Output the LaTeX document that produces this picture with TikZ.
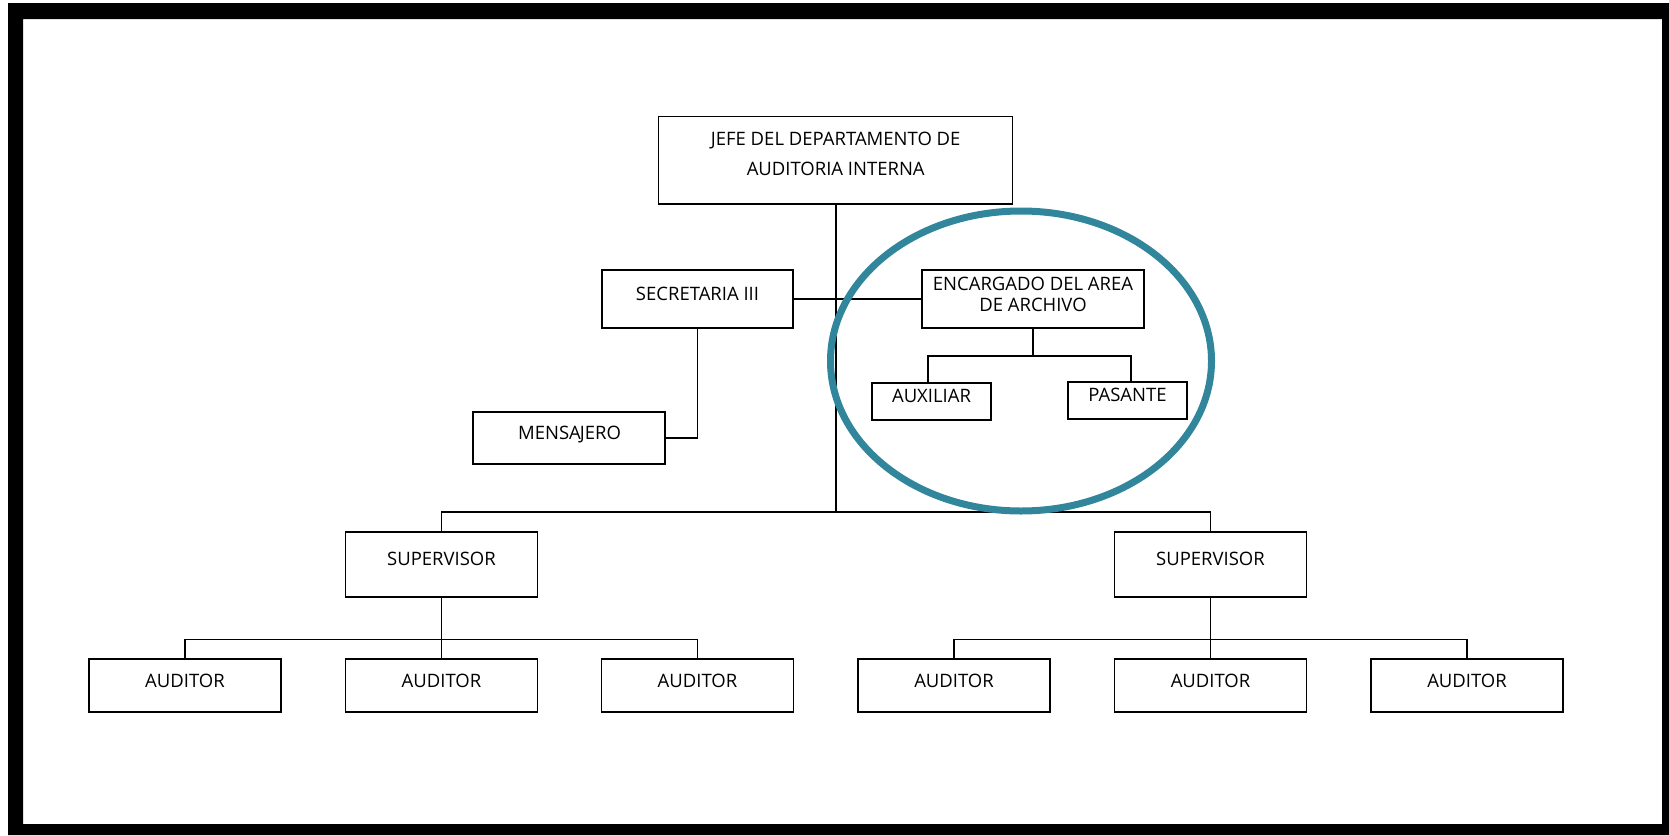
\documentclass[tikz,border=0pt]{standalone}
\usepackage{fontspec}
\setmainfont{Open Sans}
\definecolor{ringc}{RGB}{49,134,155}
\begin{document}
\begin{tikzpicture}[x=1pt,y=-1pt,
  box/.style={draw=black, line width=1.5pt, inner sep=0pt, fill=white},
  lbl/.style={inner sep=0pt, anchor=north, align=center, font=\fontsize{18.5}{29.3}\selectfont},
  conn/.style={line width=1.3pt, draw=black},
  trunk/.style={line width=1.7pt, draw=black}]
\useasboundingbox (0,0) rectangle (1669,835);
% frame
\fill[black, even odd rule] (8,3) rectangle (1669,835) (23,19) rectangle (1662,824);

% boxes
\node[box, minimum width=354pt, minimum height=87.3pt] (jefe) at (835.7,160.35) {};
\node[box, minimum width=191pt, minimum height=58pt] (sec) at (697.5,299) {};
\node[box, minimum width=192pt, minimum height=52pt] (men) at (569,438) {};
\node[box, minimum width=222pt, minimum height=58pt] (enc) at (1033,299) {};
\node[box, minimum width=119pt, minimum height=37pt] (aux) at (931.5,401.5) {};
\node[box, minimum width=119pt, minimum height=37pt] (pas) at (1127.5,400.5) {};
\node[box, minimum width=192pt, minimum height=65pt] (sup1) at (441.5,564.5) {};
\node[box, minimum width=192pt, minimum height=65pt] (sup2) at (1210.5,564.5) {};
\node[box, minimum width=192pt, minimum height=53pt] (aud1) at (185,685.5) {};
\node[box, minimum width=192pt, minimum height=53pt] (aud2) at (441.5,685.5) {};
\node[box, minimum width=192pt, minimum height=53pt] (aud3) at (697.5,685.5) {};
\node[box, minimum width=192pt, minimum height=53pt] (aud4) at (954,685.5) {};
\node[box, minimum width=192pt, minimum height=53pt] (aud5) at (1210.5,685.5) {};
\node[box, minimum width=192pt, minimum height=53pt] (aud6) at (1467,685.5) {};

% texts
\node[lbl] (tjefe) at (835.7,132.3) {JEFE DEL DEPARTAMENTO DE\\AUDITORIA INTERNA};
\node[lbl] (tsec) at (697.5,286.7) {SECRETARIA III};
\node[lbl] (tmen) at (569.5,425.7) {MENSA\kern-1pt JERO};
\node[lbl, font=\fontsize{18.5}{20.7}\selectfont] (tenc) at (1033,276.7) {ENCARGADO DEL AREA\\DE ARCHIVO};
\node[lbl] (taux) at (931.5,389) {AUXILIAR};
\node[lbl] (tpas) at (1127.5,387.7) {PASANTE};
\node[lbl] (tsup1) at (441.5,552.3) {SUPERVISOR};
\node[lbl] (tsup2) at (1210.5,552.3) {SUPERVISOR};
\node[lbl] (taud1) at (185,674) {AUDITOR};
\node[lbl] (taud2) at (441.5,674) {AUDITOR};
\node[lbl] (taud3) at (697.5,674) {AUDITOR};
\node[lbl] (taud4) at (954,674) {AUDITOR};
\node[lbl] (taud5) at (1210.5,674) {AUDITOR};
\node[lbl] (taud6) at (1467,674) {AUDITOR};

% connector helper coordinates
\coordinate (bus) at (835.7,512);
\coordinate (encbus) at (1033,356);
\coordinate (row) at (0,639.3);

% connectors
\draw[trunk] (jefe.south) -- (bus);
\draw[conn] (sup1.north) -- (sup1.north |- bus) -- (sup2.north |- bus) -- (sup2.north);
\draw[conn] (sec.east) -- (enc.west);
\draw[conn] (sec.south) |- (men.east);
\draw[conn] (enc.south) -- (encbus);
\draw[conn] ([xshift=-3.5pt]aux.north) |- (encbus);
\draw[conn] ([xshift=3.5pt]pas.north) |- (encbus);
\draw[trunk] (sup1.south) -- (aud2.north);
\draw[conn] (aud1.north) -- (aud1.north |- row) -- (aud3.north |- row) -- (aud3.north);
\draw[trunk] (sup2.south) -- (aud5.north);
\draw[conn] (aud4.north) -- (aud4.north |- row) -- (aud6.north |- row) -- (aud6.north);

% highlight ring
\draw[ringc, line width=7pt] (1021,361) ellipse [x radius=190.5pt, y radius=150pt];
\end{tikzpicture}
\end{document}
